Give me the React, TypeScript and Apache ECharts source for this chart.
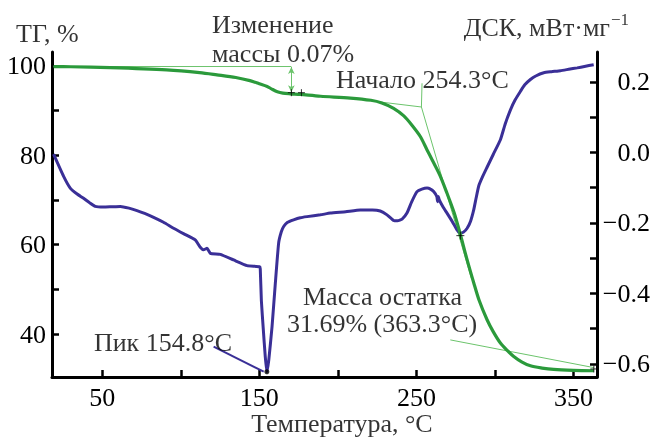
import React, { useEffect, useRef } from "react";
import * as echarts from "echarts";

// ---------- data ----------
const tgTemp = [19, 30, 55, 91, 112, 123, 135, 144, 150, 155, 158, 161.5, 165, 170, 176, 189, 208, 221, 228, 235.5, 242, 247, 252.5, 256.8, 260, 265, 269.5, 274, 278, 282, 286.5, 290, 295, 299, 303.5, 308, 312, 317, 322.6, 330, 337.4, 350, 363];
const tgVal = [99.85, 99.8, 99.6, 99.1, 98.5, 98.0, 97.4, 96.7, 96.0, 95.4, 94.8, 94.2, 93.9, 93.75, 93.6, 93.2, 92.8, 92.3, 91.7, 90.5, 88.8, 86.8, 84.2, 81.2, 79.0, 75.5, 71.5, 67.2, 62.3, 57.0, 51.5, 47.5, 43.2, 40.5, 38.0, 36.3, 35.0, 33.8, 32.9, 32.4, 32.1, 31.9, 31.8];

const dscTemp = [19, 25.4, 29.6, 34, 38.1, 42, 45.5, 50.8, 56, 61.5, 67, 72.1, 77, 82.7, 89, 95.4, 102, 109.2, 112.4, 114.5, 116.7, 118.8, 125.2, 133.6, 142.2, 150.2, 150.6, 151.3, 152.5, 153.8, 154.8, 156, 158.1, 160.2, 162.3, 164, 165.5, 168, 171.8, 176.1, 180.4, 188.9, 195.2, 205, 214.3, 222, 227, 231.3, 235.5, 238, 240.9, 244, 247, 250.4, 253.5, 256.8, 259, 261, 263, 263.5, 264, 264.5, 267, 269.5, 273, 275.9, 278, 280, 282.3, 284.5, 286.5, 288, 289.7, 292, 295, 299, 303.5, 306.5, 309.9, 313, 316.2, 319, 322.6, 326, 331.1, 336, 341.7, 347, 352.4, 357, 362.9];
const dscVal = [-0.005, -0.068, -0.101, -0.118, -0.13, -0.143, -0.153, -0.155, -0.154, -0.153, -0.158, -0.165, -0.173, -0.184, -0.198, -0.215, -0.231, -0.248, -0.269, -0.276, -0.272, -0.286, -0.289, -0.305, -0.321, -0.324, -0.33, -0.42, -0.5, -0.58, -0.622, -0.59, -0.494, -0.371, -0.257, -0.225, -0.21, -0.198, -0.191, -0.185, -0.182, -0.177, -0.172, -0.168, -0.163, -0.163, -0.166, -0.177, -0.193, -0.194, -0.189, -0.172, -0.14, -0.111, -0.104, -0.101, -0.104, -0.111, -0.125, -0.14, -0.125, -0.134, -0.155, -0.172, -0.197, -0.22, -0.229, -0.226, -0.215, -0.195, -0.163, -0.13, -0.095, -0.07, -0.042, -0.005, 0.036, 0.08, 0.121, 0.15, 0.173, 0.192, 0.207, 0.217, 0.226, 0.229, 0.232, 0.236, 0.24, 0.244, 0.249];

// annotation geometry (in data units)
const massBaseline = [[19, 99.85], [170.4, 99.85]];
const massArrow = [[170.4, 99.75], [170.4, 94.1]];
const massCrosses = [[170.4, 94.0], [176.8, 94.0]];
const onsetTangent = [[225, 92.0], [253.2, 90.8], [285, 52.5]];
const onsetPointer = [[253.6, 96.1], [253.2, 90.8]];
const residualTangent = [[271.6, 38.7], [363, 32.5]];
const residualCross = [[363, 32.2]];
const peakPointer = [[120.9, -0.551], [152.8, -0.622]];
const peakPoint = [[154.8, -0.622]];
const dscCross = [[278, -0.236]];

// texts (anchored in temperature / TG units)
const annText = ["ТГ, %", "ДСК, мВт·мг", "\u22121", "Изменение", "массы 0.07%", "Начало 254.3°C", "Масса остатка", "31.69% (363.3°C)", "Пик 154.8°C", "Температура, °C"];
const annT = [-4.9, 373.3, 373.9, 119.9, 119.9, 198.8, 177.8, 167.6, 132.6, 202.6];
const annV = [107.13, 108.69, 110.48, 109.25, 102.76, 96.84, 48.5, 42.3, 38.01, 19.89];
const annAlign = ["left", "right", "left", "left", "left", "left", "left", "left", "right", "center"];
const annSize = [26, 26, 17, 26, 26, 26, 26, 26, 26, 26];

const xTicks = [50, 100, 150, 200, 250, 300, 350];
const xLabels = [50, 150, 250, 350];
const tgTicks = [40, 50, 60, 70, 80, 90, 100];
const tgLabels = [40, 60, 80, 100];
const dscTicks = [-0.6, -0.5, -0.4, -0.3, -0.2, -0.1, 0, 0.1, 0.2];
const dscLabels = [-0.6, -0.4, -0.2, 0, 0.2];

const GREEN = "#2b9a3b";
const BLUE = "#3a2f97";
const THIN = "#6cc46c";
const FONT = "Liberation Serif";
const FS = 26;

const zip = (a: number[], b: number[]) => a.map((v, i) => [v, b[i]]);
const crossSymbol = "path://M0,5L10,5M5,0L5,10";

function buildOption() {
  const axisLine = { show: true, onZero: false, lineStyle: { color: "#000", width: 3 } };
  const axisTickBase = { show: true, inside: true, length: 7, lineStyle: { color: "#000", width: 2.5 } };
  const textData = annText.map((t, i) => ({
    value: [annT[i], annV[i]],
    label: {
      show: true,
      position: "inside",
      formatter: t,
      align: annAlign[i],
      verticalAlign: "middle",
      fontFamily: FONT,
      fontSize: annSize[i],
      color: "#000",
    },
  }));
  return {
    animation: false,
    grid: { left: 52, right: 57, top: 52, bottom: 63, containLabel: false },
    xAxis: {
      type: "value",
      min: 18,
      max: 365,
      axisLine,
      axisTick: { ...axisTickBase, customValues: xTicks },
      axisLabel: { color: "#000", fontFamily: FONT, fontSize: FS, customValues: xLabels, margin: 7 },
      splitLine: { show: false },
    },
    yAxis: [
      {
        type: "value",
        position: "left",
        min: 30.4,
        max: 103.1,
        axisLine,
        axisTick: { ...axisTickBase, customValues: tgTicks },
        axisLabel: { color: "#000", fontFamily: FONT, fontSize: FS, customValues: tgLabels, margin: 6 },
        splitLine: { show: false },
      },
      {
        type: "value",
        position: "right",
        min: -0.637,
        max: 0.285,
        axisLine,
        axisTick: { ...axisTickBase, customValues: dscTicks },
        axisLabel: {
          color: "#000", fontFamily: FONT, fontSize: FS,
          customValues: dscLabels,
          align: "right",
          margin: 53,
          formatter: (v: number) => v.toFixed(1).replace("-", "\u2212"),
        },
        splitLine: { show: false },
      },
    ],
    series: [
      { type: "line", yAxisIndex: 0, data: massBaseline, symbol: "none", lineStyle: { color: THIN, width: 1 }, z: 1 },
      { type: "line", yAxisIndex: 0, data: onsetTangent, symbol: "none", lineStyle: { color: THIN, width: 1 }, z: 1 },
      { type: "line", yAxisIndex: 0, data: onsetPointer, symbol: "none", lineStyle: { color: THIN, width: 1 }, z: 1 },
      { type: "line", yAxisIndex: 0, data: residualTangent, symbol: "none", lineStyle: { color: THIN, width: 1 }, z: 1 },
      {
        type: "line", yAxisIndex: 1, data: zip(dscTemp, dscVal), symbol: "none", smooth: 0.15,
        lineStyle: { color: BLUE, width: 3 }, z: 3,
      },
      {
        type: "line", yAxisIndex: 0, data: zip(tgTemp, tgVal), symbol: "none", smooth: 0.3,
        lineStyle: { color: GREEN, width: 3.2 }, z: 4,
        markLine: {
          silent: true,
          symbol: ["arrow", "arrow"],
          symbolSize: [5, 7],
          label: { show: false },
          lineStyle: { color: THIN, width: 1, type: "solid" },
          data: [[{ coord: massArrow[0] }, { coord: massArrow[1] }]],
        },
      },
      { type: "line", yAxisIndex: 1, data: peakPointer, symbol: "none", lineStyle: { color: BLUE, width: 2 }, z: 3 },
      { type: "scatter", yAxisIndex: 1, data: peakPoint, symbol: "circle", symbolSize: 5, itemStyle: { color: "#000" }, z: 5 },
      {
        type: "scatter", yAxisIndex: 0, data: [...massCrosses, ...residualCross], symbol: crossSymbol, symbolSize: 7,
        itemStyle: { color: "none", borderColor: "#000", borderWidth: 1 }, z: 5,
      },
      {
        type: "scatter", yAxisIndex: 1, data: dscCross, symbol: crossSymbol, symbolSize: 8,
        itemStyle: { color: "none", borderColor: "#000", borderWidth: 1 }, z: 5,
      },
      {
        type: "scatter", yAxisIndex: 0, data: textData, symbolSize: 0, clip: false, silent: true,
        itemStyle: { color: "rgba(0,0,0,0)" }, z: 10,
        labelLayout: { hideOverlap: false },
      },
    ],
  };
}

export default function App() {
  const ref = useRef<HTMLDivElement>(null);
  useEffect(() => {
    if (!ref.current) return;
    const chart = echarts.init(ref.current, undefined, { renderer: "svg" });
    chart.setOption(buildOption() as any, true);
    return () => chart.dispose();
  }, []);
  return <div ref={ref} style={{ position: "fixed", left: 0, top: 0, width: 654, height: 440 }} />;
}
